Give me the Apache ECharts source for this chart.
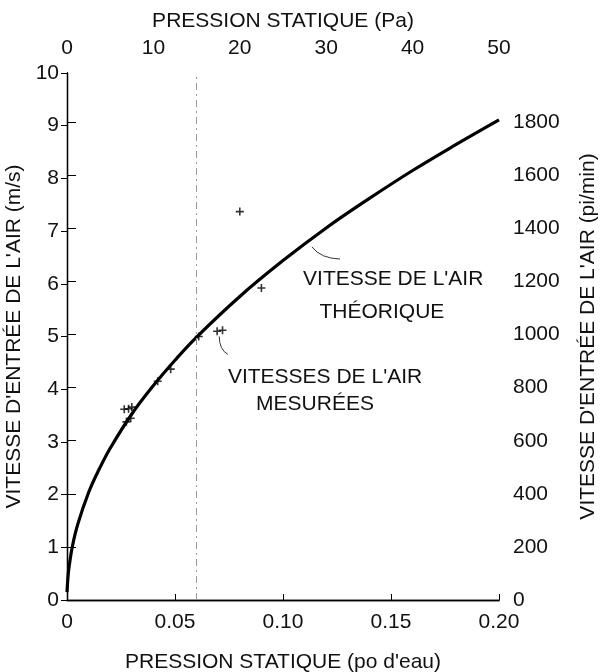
<!DOCTYPE html>
<html>
<head>
<meta charset="utf-8">
<script src="https://cdn.jsdelivr.net/npm/echarts@6/dist/echarts.min.js"></script>
<style>
  html, body { margin: 0; padding: 0; background: #fff; }
  #chart { width: 600px; height: 672px; }
</style>
</head>
<body>
<div id="chart"></div>
<script>
// courbe théorique (po d'eau -> m/s)
const curveX = [0, 0.0005, 0.001, 0.0025, 0.005, 0.01, 0.015, 0.02, 0.03, 0.04, 0.05, 0.06, 0.08, 0.10, 0.12, 0.14, 0.16, 0.18, 0.20];
const curveY = [0.15, 0.46, 0.64, 1.02, 1.44, 2.04, 2.49, 2.88, 3.53, 4.07, 4.55, 4.99, 5.76, 6.44, 7.06, 7.62, 8.15, 8.64, 9.11];

// vitesses mesurées
const measX = [0.0265, 0.0285, 0.0300, 0.0275, 0.0295, 0.042, 0.048, 0.061, 0.0695, 0.072, 0.090, 0.080];
const measY = [3.62, 3.63, 3.66, 3.38, 3.45, 4.15, 4.38, 5.00, 5.10, 5.12, 5.92, 7.37];

const dashX = 0.06;
const FONT = "Liberation Sans";

const chart = echarts.init(document.getElementById("chart"));

const txt = { color: "#111", fontFamily: FONT, fontSize: 21 };

chart.setOption({
  animation: false,
  grid: { left: 67, right: 101, top: 73, bottom: 72, outerBoundsMode: "none" },
  xAxis: [
    {
      type: "value",
      position: "bottom",
      min: 0,
      max: 0.2,
      interval: 0.05,
      name: "PRESSION STATIQUE (po d'eau)",
      nameLocation: "middle",
      nameGap: 52,
      nameTextStyle: txt,
      axisLine: { lineStyle: { color: "#000", width: 1.3 } },
      axisTick: { inside: true, length: 6, lineStyle: { color: "#000" } },
      axisLabel: Object.assign({ margin: 12, formatter: (v) => (v === 0 ? "0" : v.toFixed(2)) }, txt),
      splitLine: { show: false },
    },
    {
      type: "value",
      position: "top",
      min: 0,
      max: 50,
      interval: 10,
      name: "PRESSION STATIQUE (Pa)",
      nameLocation: "middle",
      nameGap: 41,
      nameTextStyle: txt,
      axisLine: { lineStyle: { color: "#000", width: 1.3 } },
      axisTick: { show: false },
      axisLabel: Object.assign({ margin: 14 }, txt),
      splitLine: { show: false },
    },
  ],
  yAxis: [
    {
      type: "value",
      position: "left",
      min: 0,
      max: 10,
      interval: 1,
      name: "VITESSE D'ENTRÉE DE L'AIR (m/s)",
      nameLocation: "middle",
      nameGap: 29,
      nameTextStyle: txt,
      axisLine: { lineStyle: { color: "#000", width: 1.3 } },
      axisTick: { length: 6, lineStyle: { color: "#000" } },
      axisLabel: Object.assign({ margin: 8 }, txt),
      splitLine: { show: false },
    },
    {
      type: "value",
      position: "right",
      min: 0,
      max: 1985,
      interval: 200,
      name: "VITESSE D'ENTRÉE DE L'AIR (pi/min)",
      nameLocation: "middle",
      nameGap: 79,
      nameRotate: 90,
      nameTextStyle: txt,
      axisLine: { lineStyle: { color: "#000", width: 1.3 } },
      axisTick: { length: 9, lineStyle: { color: "#000" } },
      axisLabel: Object.assign({ margin: 14, showMaxLabel: false, formatter: (v) => String(v) }, txt),
      splitLine: { show: false },
    },
  ],
  series: [
    {
      name: "théorique",
      type: "line",
      xAxisIndex: 0,
      yAxisIndex: 0,
      smooth: 0.4,
      showSymbol: false,
      lineStyle: { color: "#000", width: 3.2 },
      data: curveX.map((x, i) => [x, curveY[i]]),
      markLine: {
        silent: true,
        symbol: "none",
        label: { show: false },
        lineStyle: { color: "#999", width: 1, type: [7, 4, 2, 4] },
        data: [{ xAxis: dashX }],
      },
      z: 3,
    },
    {
      name: "mesurées",
      type: "scatter",
      xAxisIndex: 0,
      yAxisIndex: 0,
      symbol: "path://M5,0V10M0,5H10",
      symbolSize: 8,
      itemStyle: { color: "#000", borderColor: "#000", borderWidth: 1.6 },
      data: measX.map((x, i) => [x, measY[i]]),
      z: 4,
    },
  ],
});

// annotations placées en coordonnées de données
const px = (x, y) => chart.convertToPixel({ xAxisIndex: 0, yAxisIndex: 0 }, [x, y]);

const a1 = px(0.1134, 6.70), c1 = px(0.1175, 6.48), b1 = px(0.1264, 6.47);
const a2 = px(0.0705, 5.00), c2 = px(0.0705, 4.75), b2 = px(0.0745, 4.66);
const t1 = px(0.1093, 6.09), t2 = px(0.1458, 5.46);
const t3 = px(0.0745, 4.23), t4 = px(0.1148, 3.72);

const textEl = (p, s, align) => ({
  type: "text",
  x: p[0],
  y: p[1],
  style: {
    text: s,
    fill: "#111",
    font: "21px '" + FONT + "'",
    textAlign: align,
    textVerticalAlign: "middle",
  },
});

chart.setOption({
  graphic: [
    {
      type: "bezierCurve",
      shape: { x1: a1[0], y1: a1[1], cpx1: c1[0], cpy1: c1[1], x2: b1[0], y2: b1[1] },
      style: { stroke: "#333", lineWidth: 1, fill: null },
    },
    {
      type: "bezierCurve",
      shape: { x1: a2[0], y1: a2[1], cpx1: c2[0], cpy1: c2[1], x2: b2[0], y2: b2[1] },
      style: { stroke: "#333", lineWidth: 1, fill: null },
    },
    textEl(t1, "VITESSE DE L'AIR", "left"),
    textEl(t2, "THÉORIQUE", "center"),
    textEl(t3, "VITESSES DE L'AIR", "left"),
    textEl(t4, "MESURÉES", "center"),
  ],
});
</script>
</body>
</html>
